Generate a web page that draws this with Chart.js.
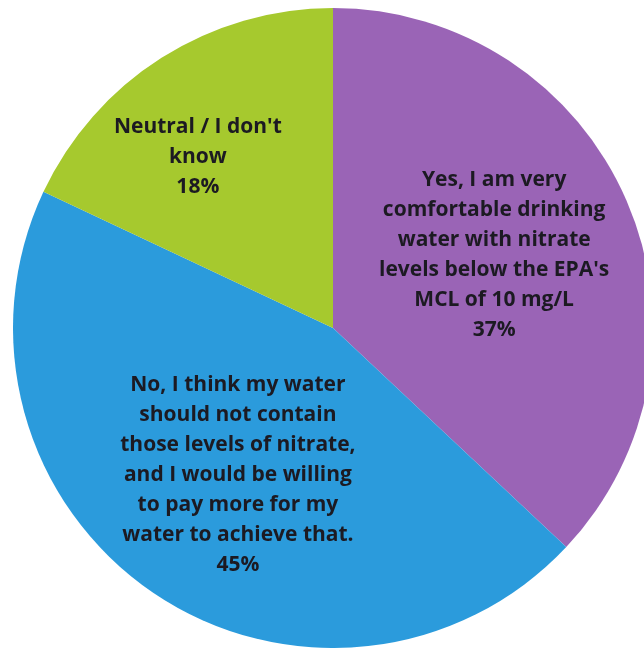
<!DOCTYPE html>
<html>
<head>
<meta charset="utf-8">
<script src="https://cdn.jsdelivr.net/npm/chart.js@4.4.1/dist/chart.umd.min.js"></script>
<style>
  html, body { margin: 0; padding: 0; background: #ffffff; overflow: hidden; width: 644px; height: 650px; }
  #wrap { position: absolute; left: 13px; top: 8px; width: 640px; height: 640px; }
</style>
</head>
<body>
<div id="wrap"><canvas id="nitratePie"></canvas></div>
<script>
const categories = [
  "Yes, I am very comfortable drinking water with nitrate levels below the EPA's MCL of 10 mg/L",
  "No, I think my water should not contain those levels of nitrate, and I would be willing to pay more for my water to achieve that.",
  "Neutral / I don't know"
];
const shares = [37, 45, 18];
const labelLines = [
  ["Yes, I am very", "comfortable drinking", "water with nitrate", "levels below the EPA's", "MCL of 10 mg/L"],
  ["No, I think my water", "should not contain", "those levels of nitrate,", "and I would be willing", "to pay more for my", "water to achieve that."],
  ["Neutral / I don't", "know"]
];
const sliceColors = ["#9a64b6", "#2b9bdc", "#a6c92e"];

// where each label sits inside its slice: fraction of radius + angle nudge (deg)
const labelPlace = [
  { r: 0.553, da: -1 },
  { r: 0.547, da: -1.3 },
  { r: 0.68, da: -6 }
];

const sliceLabels = {
  id: "sliceLabels",
  afterDatasetsDraw(chart) {
    const ctx = chart.ctx;
    const meta = chart.getDatasetMeta(0);
    ctx.save();
    ctx.font = "bold 21px 'Open Sans', 'Liberation Sans', sans-serif";
    ctx.fillStyle = "#1c1a22";
    ctx.textAlign = "center";
    ctx.textBaseline = "middle";
    meta.data.forEach((arc, i) => {
      const p = arc.getProps(["x", "y", "startAngle", "endAngle", "outerRadius"], true);
      const a = (p.startAngle + p.endAngle) / 2 + labelPlace[i].da * Math.PI / 180;
      const rr = p.outerRadius * labelPlace[i].r;
      const cx = p.x + Math.cos(a) * rr;
      const cy = p.y + Math.sin(a) * rr;
      const lines = labelLines[i].concat([shares[i] + "%"]);
      const lh = 30;
      const top = cy - (lines.length - 1) * lh / 2;
      lines.forEach((t, k) => ctx.fillText(t, cx, top + k * lh));
    });
    ctx.restore();
  }
};

new Chart(document.getElementById("nitratePie").getContext("2d"), {
  type: "pie",
  data: {
    labels: categories,
    datasets: [{
      data: shares,
      backgroundColor: sliceColors,
      borderWidth: 0
    }]
  },
  options: {
    responsive: true,
    maintainAspectRatio: false,
    animation: false,
    layout: { padding: 0 },
    plugins: {
      legend: { display: false },
      tooltip: { enabled: false }
    }
  },
  plugins: [sliceLabels]
});
</script>
</body>
</html>
